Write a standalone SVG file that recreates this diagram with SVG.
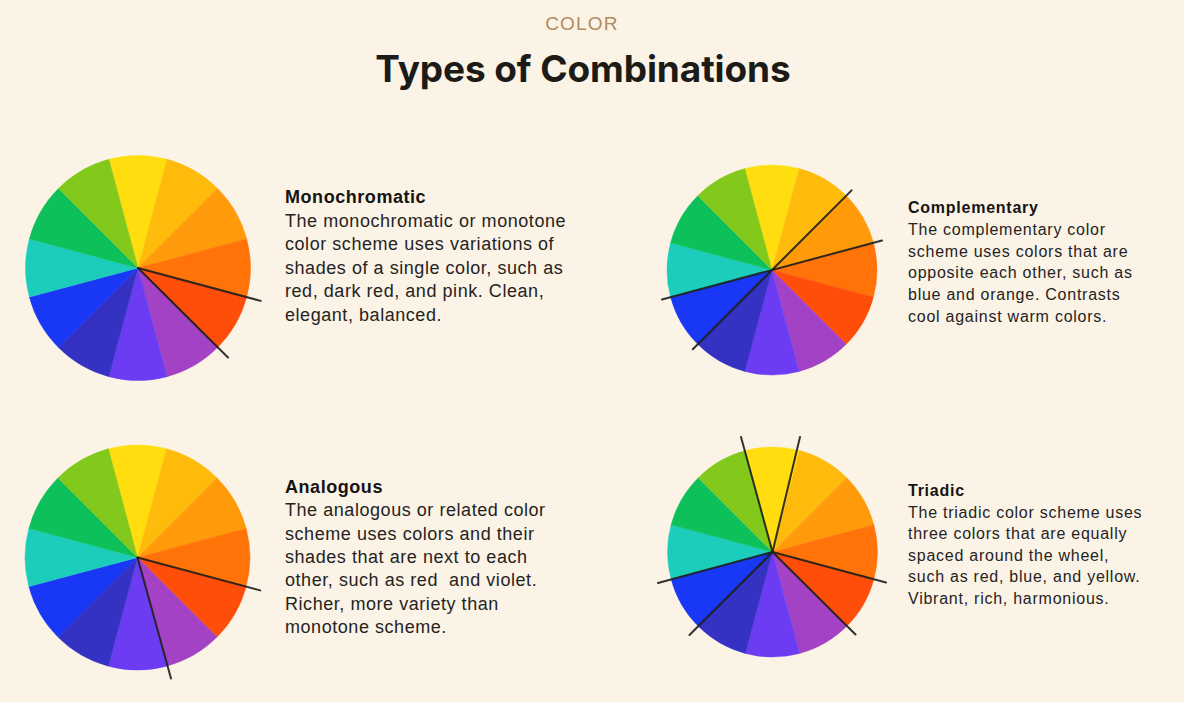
<svg xmlns="http://www.w3.org/2000/svg" xmlns:xlink="http://www.w3.org/1999/xlink" width="1184" height="702" viewBox="0 0 1184 702">
  <style>
    .kicker { font-family: "Liberation Sans", Arial, sans-serif; font-size: 19px; fill: #B38B5D; letter-spacing: 1.2px; }
    .title { font-family: Inter, "Liberation Sans", Arial, sans-serif; font-size: 37px; font-weight: 700; fill: #1C1B17; letter-spacing: -0.1px; }
    .big { font-family: "Liberation Sans", Arial, sans-serif; font-size: 18px; fill: #26231F; letter-spacing: 0.55px; }
    .small { font-family: "Liberation Sans", Arial, sans-serif; font-size: 16px; fill: #26231F; letter-spacing: 0.75px; }
    .head { font-weight: 700; fill: #151412; }
    .cut { stroke: #1E1E1E; stroke-width: 2; stroke-linecap: round; opacity: 0.9; }
    .c01 { fill: #FFDD0E; stroke: #FFDD0E; }
    .c02 { fill: #FFBB0C; stroke: #FFBB0C; }
    .c03 { fill: #FF9A0B; stroke: #FF9A0B; }
    .c04 { fill: #FF7309; stroke: #FF7309; }
    .c05 { fill: #FF4E0A; stroke: #FF4E0A; }
    .c06 { fill: #A342C4; stroke: #A342C4; }
    .c07 { fill: #6B3CF2; stroke: #6B3CF2; }
    .c08 { fill: #3431C3; stroke: #3431C3; }
    .c09 { fill: #1838F5; stroke: #1838F5; }
    .c10 { fill: #1DCDBB; stroke: #1DCDBB; }
    .c11 { fill: #0DC05A; stroke: #0DC05A; }
    .c12 { fill: #82C91C; stroke: #82C91C; }
    .wheel path { stroke-width: 0.4; stroke-linejoin: round; }
  </style>
  <defs>
    <!-- twelve 30-degree wedges, radius 100, yellow centred at the top -->
    <g id="wheel" class="wheel">
      <path class="c01" d="M0,0 L-25.88,-96.59 A100,100 0 0 1 25.88,-96.59 Z"/>
      <path class="c02" d="M0,0 L25.88,-96.59 A100,100 0 0 1 70.71,-70.71 Z"/>
      <path class="c03" d="M0,0 L70.71,-70.71 A100,100 0 0 1 96.59,-25.88 Z"/>
      <path class="c04" d="M0,0 L96.59,-25.88 A100,100 0 0 1 96.59,25.88 Z"/>
      <path class="c05" d="M0,0 L96.59,25.88 A100,100 0 0 1 70.71,70.71 Z"/>
      <path class="c06" d="M0,0 L70.71,70.71 A100,100 0 0 1 25.88,96.59 Z"/>
      <path class="c07" d="M0,0 L25.88,96.59 A100,100 0 0 1 -25.88,96.59 Z"/>
      <path class="c08" d="M0,0 L-25.88,96.59 A100,100 0 0 1 -70.71,70.71 Z"/>
      <path class="c09" d="M0,0 L-70.71,70.71 A100,100 0 0 1 -96.59,25.88 Z"/>
      <path class="c10" d="M0,0 L-96.59,25.88 A100,100 0 0 1 -96.59,-25.88 Z"/>
      <path class="c11" d="M0,0 L-96.59,-25.88 A100,100 0 0 1 -70.71,-70.71 Z"/>
      <path class="c12" d="M0,0 L-70.71,-70.71 A100,100 0 0 1 -25.88,-96.59 Z"/>
    </g>
  </defs>

  <rect width="1184" height="702" fill="#FAF3E6"/>

  <g id="header">
    <text class="kicker" x="582" y="30" text-anchor="middle">COLOR</text>
    <text class="title" x="583" y="82" text-anchor="middle">Types of Combinations</text>
  </g>

  <g id="monochromatic">
    <use xlink:href="#wheel" href="#wheel" transform="translate(138,268) scale(1.125)"/>
    <line class="cut" x1="138" y1="268" x2="260.7" y2="300.9"/>
    <line class="cut" x1="138" y1="268" x2="228" y2="357.5"/>
    <text class="big" x="285">
      <tspan class="head" x="285" y="203">Monochromatic</tspan>
      <tspan x="285" y="226.6">The monochromatic or monotone</tspan>
      <tspan x="285" y="250.2">color scheme uses variations of</tspan>
      <tspan x="285" y="273.8">shades of a single color, such as</tspan>
      <tspan x="285" y="297.4">red, dark red, and pink. Clean,</tspan>
      <tspan x="285" y="321">elegant, balanced.</tspan>
    </text>
  </g>

  <g id="complementary">
    <use xlink:href="#wheel" href="#wheel" transform="translate(772,270) scale(1.05)"/>
    <line class="cut" x1="692.8" y1="349.2" x2="851.6" y2="190.4"/>
    <line class="cut" x1="662" y1="299.5" x2="882" y2="240.5"/>
    <text class="small" x="908">
      <tspan class="head" x="908" y="213">Complementary</tspan>
      <tspan x="908" y="234.8">The complementary color</tspan>
      <tspan x="908" y="256.6">scheme uses colors that are</tspan>
      <tspan x="908" y="278.4">opposite each other, such as</tspan>
      <tspan x="908" y="300.2">blue and orange. Contrasts</tspan>
      <tspan x="908" y="322">cool against warm colors.</tspan>
    </text>
  </g>

  <g id="analogous">
    <use xlink:href="#wheel" href="#wheel" transform="translate(137.5,557.5) scale(1.125)"/>
    <line class="cut" x1="137.5" y1="557.5" x2="260.2" y2="590.4"/>
    <line class="cut" x1="137.5" y1="557.5" x2="171" y2="678.5"/>
    <text class="big" x="285">
      <tspan class="head" x="285" y="493">Analogous</tspan>
      <tspan x="285" y="516.3">The analogous or related color</tspan>
      <tspan x="285" y="539.6">scheme uses colors and their</tspan>
      <tspan x="285" y="562.9">shades that are next to each</tspan>
      <tspan x="285" y="586.2" xml:space="preserve" style="white-space:pre">other, such as red  and violet.</tspan>
      <tspan x="285" y="609.5">Richer, more variety than</tspan>
      <tspan x="285" y="632.8">monotone scheme.</tspan>
    </text>
  </g>

  <g id="triadic">
    <use xlink:href="#wheel" href="#wheel" transform="translate(772.5,552) scale(1.05)"/>
    <line class="cut" x1="772.5" y1="552" x2="741" y2="437"/>
    <line class="cut" x1="772.5" y1="552" x2="800" y2="437"/>
    <line class="cut" x1="772.5" y1="552" x2="886" y2="582.5"/>
    <line class="cut" x1="772.5" y1="552" x2="855.5" y2="634.5"/>
    <line class="cut" x1="772.5" y1="552" x2="689.5" y2="635"/>
    <line class="cut" x1="772.5" y1="552" x2="658" y2="583"/>
    <text class="small" x="908">
      <tspan class="head" x="908" y="496">Triadic</tspan>
      <tspan x="908" y="517.6">The triadic color scheme uses</tspan>
      <tspan x="908" y="539.2">three colors that are equally</tspan>
      <tspan x="908" y="560.8">spaced around the wheel,</tspan>
      <tspan x="908" y="582.4">such as red, blue, and yellow.</tspan>
      <tspan x="908" y="604">Vibrant, rich, harmonious.</tspan>
    </text>
  </g>
</svg>
